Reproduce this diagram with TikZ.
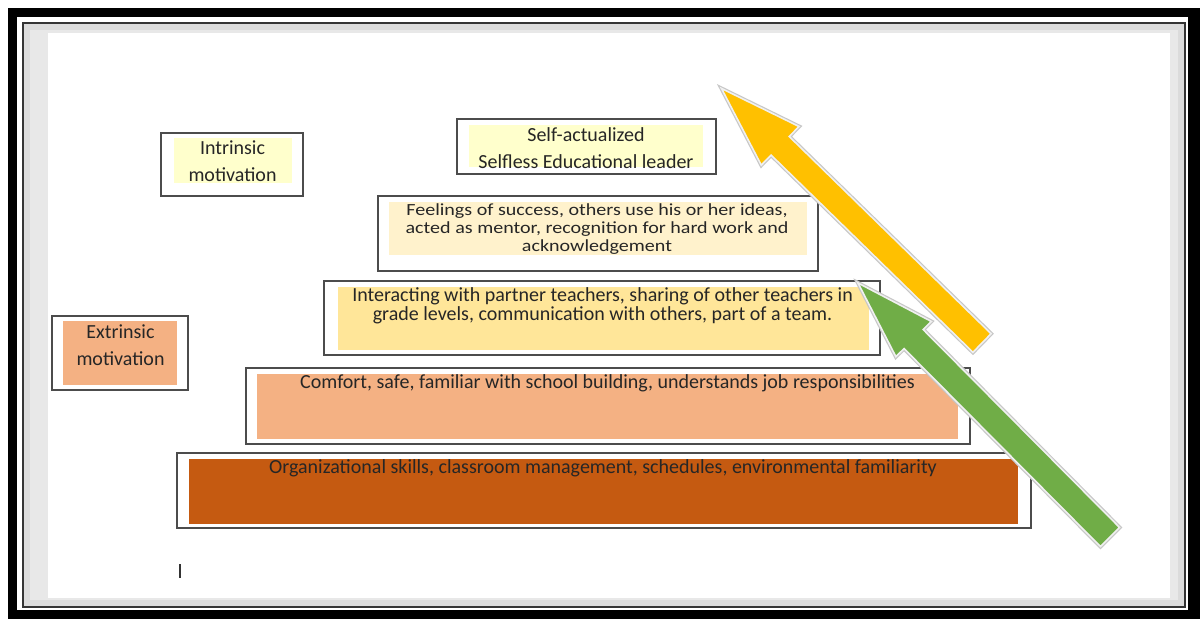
\documentclass[tikz,border=0pt]{standalone}
\usepackage{fontspec}
\setmainfont{Carlito}
\newfontfamily\widecarlito[FakeStretch=1.18]{Carlito}
\usetikzlibrary{calc}
\definecolor{lvlA}{HTML}{C55A11}
\definecolor{lvlB}{HTML}{F4B183}
\definecolor{lvlC}{HTML}{FFE699}
\definecolor{lvlD}{HTML}{FFF2CC}
\definecolor{lvlE}{HTML}{FFFFCC}
\definecolor{arrY}{HTML}{FFC000}
\definecolor{arrG}{HTML}{70AD47}
\definecolor{txtc}{HTML}{262626}
\tikzset{
  outerbox/.style={draw=black!70, line width=1.6pt, fill=white, inner sep=0pt},
  fillbox/.style={inner sep=0pt, draw=none},
  lbl/.style={text=txtc, align=center, inner sep=0pt},
  fatarrow/.style={preaction={draw=black!22, line width=4pt, line join=miter},
                   draw=white!94!black, line width=1.6pt, line join=miter},
}
\begin{document}
\begin{tikzpicture}[x=1pt,y=-1pt]
\useasboundingbox (0,0) rectangle (1200,619);
% frame
\fill[black] (8,8) rectangle (1200,619);
\fill[white] (17,17) rectangle (1188,610);
\fill[black!14] (23,23) rectangle (1185,607);
\draw[black!80, line width=2.2pt] (23,23) rectangle (1185,607);
\fill[black!9] (30,30) rectangle (1178,600);
\fill[white] (48,33) rectangle (1170,598);

% level boxes
\node[outerbox, minimum width=142pt, minimum height=63pt] (oI) at (232,164.5) {};
\node[fillbox, fill=lvlE, minimum width=118pt, minimum height=45pt] (fI) at (233,160.5) {};
\node[lbl, font=\fontsize{20}{27}\selectfont] (tI) at (232.5,161.5) {Intrinsic\\motivation};

\node[outerbox, minimum width=259pt, minimum height=55pt] (oS) at (586.5,146.5) {};
\node[fillbox, fill=lvlE, minimum width=234pt, minimum height=42pt] (fS) at (586,146) {};
\node[lbl, font=\fontsize{20}{27}\selectfont] (tS) at (586,148) {Self-actualized\\Selfless Educational leader};

\node[outerbox, minimum width=440pt, minimum height=75pt] (oF) at (598,233.5) {};
\node[fillbox, fill=lvlD, minimum width=418pt, minimum height=53pt] (fF) at (598,228.5) {};
\node[lbl, font=\widecarlito\fontsize{17}{17.8}\selectfont] (tF) at (597,229) {Feelings of success, others use his or her ideas,\\acted as mentor, recognition for hard work and\\acknowledgement};

\node[outerbox, minimum width=556pt, minimum height=74pt] (oN) at (602,318) {};
\node[fillbox, fill=lvlC, minimum width=531pt, minimum height=63pt] (fN) at (603.5,318.5) {};
\node[lbl, font=\fontsize{20}{19.5}\selectfont] (tN) at (602.5,306) {Interacting with partner teachers, sharing of other teachers in\\grade levels, communication with others, part of a team.};

\node[outerbox, minimum width=136pt, minimum height=74pt] (oE) at (120,353) {};
\node[fillbox, fill=lvlB, minimum width=114pt, minimum height=64pt] (fE) at (120,353) {};
\node[lbl, font=\fontsize{20}{27}\selectfont] (tE) at (120.5,345) {Extrinsic\\motivation};

\node[outerbox, minimum width=724pt, minimum height=76pt] (oC) at (608,406) {};
\node[fillbox, fill=lvlB, minimum width=701pt, minimum height=65pt] (fC) at (607.5,406.5) {};
\node[lbl, font=\fontsize{20}{24}\selectfont] (tC) at (607.5,383) {Comfort, safe, familiar with school building, understands job responsibilities};

\node[outerbox, minimum width=854pt, minimum height=75pt] (oO) at (604,490.5) {};
\node[fillbox, fill=lvlA, minimum width=829pt, minimum height=65pt] (fO) at (603.5,491.5) {};
\node[lbl, font=\fontsize{20}{24}\selectfont] (tO) at (603,468) {Organizational skills, classroom management, schedules, environmental familiarity};

% cursor tick
\coordinate (k1) at (180,564);
\coordinate (k2) at (180,578);
\draw[black!80, line width=1.3pt] (k1) -- (k2);

% yellow arrow
\coordinate (yT) at (721.5,88.5);
\coordinate (yE) at (982,343);
\coordinate (yB) at ($(yT)!82pt!(yE)$);
\path[fatarrow, fill=arrY]
  ($(yE)!13pt!90:(yT)$) -- ($(yB)!13pt!90:(yT)$) -- ($(yB)!27pt!90:(yT)$) -- (yT)
  -- ($(yB)!27pt!-90:(yT)$) -- ($(yB)!13pt!-90:(yT)$) -- ($(yE)!13pt!-90:(yT)$) -- cycle;

% green arrow
\coordinate (gT) at (858,283);
\coordinate (gE) at (1110,537);
\coordinate (gB) at ($(gT)!79pt!(gE)$);
\path[fatarrow, fill=arrG]
  ($(gE)!13.5pt!90:(gT)$) -- ($(gB)!13.5pt!90:(gT)$) -- ($(gB)!25pt!90:(gT)$) -- (gT)
  -- ($(gB)!25pt!-90:(gT)$) -- ($(gB)!13.5pt!-90:(gT)$) -- ($(gE)!13.5pt!-90:(gT)$) -- cycle;
\end{tikzpicture}
\end{document}
